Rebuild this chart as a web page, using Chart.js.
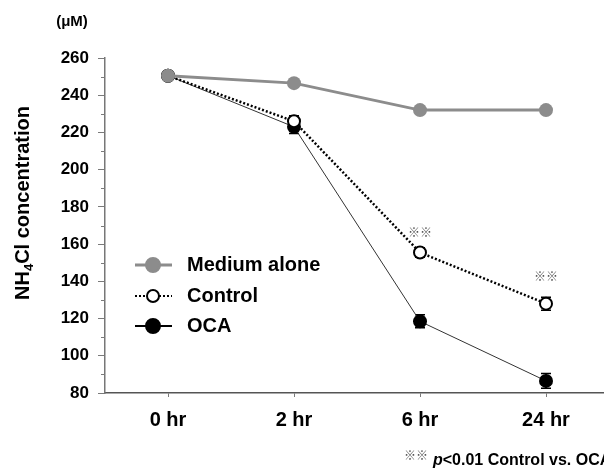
<!DOCTYPE html>
<html>
<head>
<meta charset="utf-8">
<script src="https://cdn.jsdelivr.net/npm/chart.js@4.4.1/dist/chart.umd.min.js"></script>
<style>
  html, body { margin: 0; padding: 0; background: #fff; overflow: hidden; width: 604px; height: 468px; }
  #wrap { width: 617px; height: 468px; }
</style>
</head>
<body>
<div id="wrap"><canvas id="c" width="617" height="468"></canvas></div>
<script>
const categories = ['0 hr', '2 hr', '6 hr', '24 hr'];
const mediumAlone = [250.5, 246.5, 232, 232];
const control = [250.5, 226, 155.5, 128];
const oca = [250.5, 223, 118.5, 86.5];
const controlErr = [0, 3, 2.5, 3.5];
const ocaErr = [0, 3.5, 3.5, 4];
const yTicks = [80, 100, 120, 140, 160, 180, 200, 220, 240, 260];
const seriesNames = ['Medium alone', 'Control', 'OCA'];
const sigMarks = ['', '', '※※', '※※'];
const footnote = 'p<0.01 Control vs. OCA';

const FONT = '"Liberation Sans", Arial, sans-serif';
const GRAY = '#8c8c8c';

const errorBars = {
  id: 'errorBars',
  beforeDatasetsDraw(chart) {
    const ctx = chart.ctx, y = chart.scales.y;
    const sets = [[1, control, controlErr], [2, oca, ocaErr]];
    ctx.save();
    ctx.strokeStyle = '#000';
    ctx.lineWidth = 1.5;
    sets.forEach(([di, vals, errs]) => {
      const meta = chart.getDatasetMeta(di);
      meta.data.forEach((pt, i) => {
        if (!errs[i]) return;
        const top = y.getPixelForValue(vals[i] + errs[i]);
        const bot = y.getPixelForValue(vals[i] - errs[i]);
        ctx.beginPath();
        ctx.moveTo(pt.x, top); ctx.lineTo(pt.x, bot);
        ctx.moveTo(pt.x - 5, top); ctx.lineTo(pt.x + 5, top);
        ctx.moveTo(pt.x - 5, bot); ctx.lineTo(pt.x + 5, bot);
        ctx.stroke();
      });
    });
    ctx.restore();
  }
};

const decorations = {
  id: 'decorations',
  afterDraw(chart) {
    const ctx = chart.ctx, y = chart.scales.y;
    const left = chart.chartArea.left;
    ctx.save();
    // minor ticks on y axis
    ctx.strokeStyle = '#7a7a7a';
    ctx.lineWidth = 1;
    for (let i = 0; i < yTicks.length - 1; i++) {
      const v = (yTicks[i] + yTicks[i + 1]) / 2;
      const py = Math.round(y.getPixelForValue(v)) + 0.5;
      ctx.beginPath(); ctx.moveTo(left - 4, py); ctx.lineTo(left, py); ctx.stroke();
    }
    // units
    ctx.fillStyle = '#000';
    ctx.font = 'bold 15px ' + FONT;
    ctx.textAlign = 'center';
    ctx.textBaseline = 'middle';
    ctx.fillText('(μM)', 72, 22);

    // y title with subscript
    ctx.save();
    ctx.translate(22, 203);
    ctx.rotate(-Math.PI / 2);
    const bigF = 'bold 20px ' + FONT, smallF = 'bold 13px ' + FONT;
    ctx.font = bigF; const w1 = ctx.measureText('NH').width;
    const w3 = ctx.measureText('Cl concentration').width;
    ctx.font = smallF; const w2 = ctx.measureText('4').width;
    let sx = -(w1 + w2 + w3) / 2;
    ctx.textAlign = 'left';
    ctx.textBaseline = 'alphabetic';
    ctx.font = bigF; ctx.fillText('NH', sx, 7); sx += w1;
    ctx.font = smallF; ctx.fillText('4', sx, 11); sx += w2;
    ctx.font = bigF; ctx.fillText('Cl concentration', sx, 7);
    ctx.restore();

    // significance marks above control points
    const cMeta = chart.getDatasetMeta(1);
    ctx.fillStyle = '#555';
    ctx.font = '12px "Noto Sans CJK JP", "DejaVu Sans", sans-serif';
    ctx.textAlign = 'center';
    ctx.textBaseline = 'middle';
    const sigOffsets = [0, 0, 20, 27];
    sigMarks.forEach((m, i) => {
      if (!m) return;
      const pt = cMeta.data[i];
      ctx.fillText(m, pt.x, pt.y - sigOffsets[i]);
    });

    // footnote
    ctx.textAlign = 'left';
    ctx.fillText('※※', 404, 455);
    ctx.fillStyle = '#000';
    ctx.font = 'italic bold 16px ' + FONT;
    ctx.fillText('p', 433, 461);
    const pw = ctx.measureText('p').width;
    ctx.font = 'bold 16px ' + FONT;
    ctx.fillText(footnote.slice(1), 433 + pw, 461);

    // legend
    const rows = [
      { y: 265, color: GRAY, lw: 3, dash: [], fill: GRAY, stroke: GRAY, r: 7 },
      { y: 296, color: '#000', lw: 2, dash: [2, 2], fill: '#fff', stroke: '#000', r: 6 },
      { y: 326, color: '#000', lw: 2, dash: [], fill: '#000', stroke: '#000', r: 7 }
    ];
    rows.forEach((r, i) => {
      ctx.save();
      ctx.strokeStyle = r.color; ctx.lineWidth = r.lw; ctx.setLineDash(r.dash);
      ctx.beginPath(); ctx.moveTo(135, r.y); ctx.lineTo(172, r.y); ctx.stroke();
      ctx.setLineDash([]);
      ctx.beginPath(); ctx.arc(153, r.y, r.r, 0, Math.PI * 2);
      ctx.fillStyle = r.fill; ctx.fill();
      ctx.lineWidth = 2; ctx.strokeStyle = r.stroke; ctx.stroke();
      ctx.fillStyle = '#000';
      ctx.font = 'bold 20px ' + FONT;
      ctx.textAlign = 'left'; ctx.textBaseline = 'middle';
      ctx.fillText(seriesNames[i], 187, r.y);
      ctx.restore();
    });
    ctx.restore();
  }
};

new Chart(document.getElementById('c'), {
  type: 'line',
  data: {
    labels: categories,
    datasets: [
      { label: seriesNames[0], data: mediumAlone, borderColor: GRAY, borderWidth: 3,
        pointRadius: 7, pointBackgroundColor: GRAY, pointBorderColor: GRAY, pointBorderWidth: 0, tension: 0 },
      { label: seriesNames[1], data: control, borderColor: '#000', borderWidth: 2.5, borderDash: [2, 2],
        pointRadius: 6, pointBackgroundColor: '#fff', pointBorderColor: '#000', pointBorderWidth: 2, tension: 0 },
      { label: seriesNames[2], data: oca, borderColor: '#333', borderWidth: 1,
        pointRadius: 7, pointBackgroundColor: '#000', pointBorderColor: '#000', pointBorderWidth: 0, tension: 0 }
    ]
  },
  options: {
    responsive: false,
    animation: false,
    layout: { padding: { top: 58, right: 0, left: 0, bottom: 0 } },
    plugins: { legend: { display: false }, tooltip: { enabled: false } },
    scales: {
      x: {
        type: 'category',
        offset: true,
        grid: { display: true, drawOnChartArea: false, drawTicks: true, tickLength: 4, color: '#7a7a7a', offset: false },
        border: { display: true, color: '#555', width: 1.5 },
        ticks: { color: '#000', font: { family: FONT, size: 20, weight: 'bold' }, padding: 11 },
        afterFit(s) { s.height = 75; }
      },
      y: {
        min: 80, max: 260,
        afterBuildTicks(s) { s.ticks = yTicks.map(v => ({ value: v })); },
        grid: { display: true, drawOnChartArea: false, drawTicks: true, tickLength: 7, color: '#7a7a7a' },
        border: { display: true, color: '#777', width: 1.5 },
        ticks: { color: '#000', font: { family: FONT, size: 17, weight: 'bold' }, padding: 9 },
        afterFit(s) { s.width = 105; }
      }
    }
  },
  plugins: [errorBars, decorations]
});
</script>
</body>
</html>
